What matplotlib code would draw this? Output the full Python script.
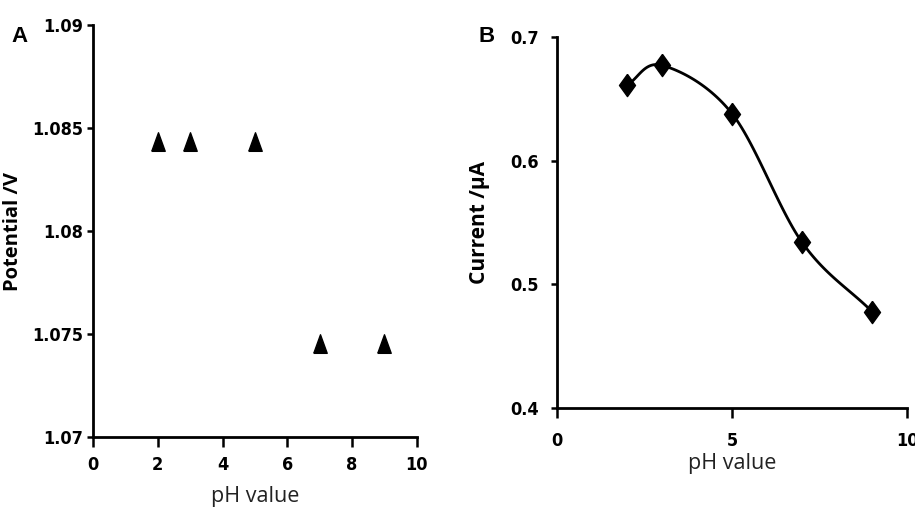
import numpy as np
import matplotlib
matplotlib.use("Agg")
import matplotlib.pyplot as plt
from matplotlib import font_manager

ph_a = [2, 3, 5, 7, 9]
potential = [1.0843, 1.0843, 1.0843, 1.0745, 1.0745]
ph_b = [2, 3, 5, 7, 9]
current = [0.661, 0.677, 0.638, 0.534, 0.478]


def catmull_rom(x, y, n=30):
    x = np.asarray(x, float); y = np.asarray(y, float)
    px = np.concatenate([[2 * x[0] - x[1]], x, [2 * x[-1] - x[-2]]])
    py = np.concatenate([[2 * y[0] - y[1]], y, [2 * y[-1] - y[-2]]])
    xs, ys = [], []
    for i in range(1, len(px) - 2):
        t = np.linspace(0, 1, n)
        p0, p1, p2, p3 = [np.array([px[j], py[j]]) for j in range(i - 1, i + 3)]
        c1 = p1 + (p2 - p0) / 6
        c2 = p2 - (p3 - p1) / 6
        b = ((1 - t) ** 3)[:, None] * p1 + (3 * (1 - t) ** 2 * t)[:, None] * c1 \
            + (3 * (1 - t) * t ** 2)[:, None] * c2 + (t ** 3)[:, None] * p2
        xs.append(b[:, 0]); ys.append(b[:, 1])
    return np.concatenate(xs), np.concatenate(ys)


tri = [(-0.38, -0.5), (0.38, -0.5), (0.0, 0.55), (-0.38, -0.5)]
dia = [(0, 1), (0.72, 0), (0, -1), (-0.72, 0), (0, 1)]

fig = plt.figure(figsize=(9.15, 5.12), dpi=100)
axA = fig.add_axes([0.1016, 0.1465, 0.354, 0.8045])
axB = fig.add_axes([0.6087, 0.203, 0.3826, 0.725])

tickfp = font_manager.FontProperties(family="DejaVu Sans", stretch="condensed", weight="bold", size=13)
labfont = "Open Sans"

for ax in (axA, axB):
    for s in ("top", "right"):
        ax.spines[s].set_visible(False)
    for s in ("left", "bottom"):
        ax.spines[s].set_linewidth(2.0)
    ax.set_xlabel("pH value", fontsize=15.5, family=labfont, color="#222222")

axA.tick_params(axis="x", direction="out", length=7, width=1.8, pad=7)
axB.tick_params(axis="x", direction="out", length=7, width=1.8, pad=10)
axA.tick_params(axis="y", direction="out", length=4, width=1.8, pad=3)
axB.tick_params(axis="y", direction="out", length=4, width=1.8, pad=9)

axA.plot(ph_a, potential, linestyle="none", marker=tri, markersize=14, color="black")
axA.set_xlim(0, 10)
axA.set_ylim(1.07, 1.09)
axA.set_xticks([0, 2, 4, 6, 8, 10])
axA.set_yticks([1.07, 1.075, 1.08, 1.085, 1.09])
axA.set_yticklabels(["1.07", "1.075", "1.08", "1.085", "1.09"])
for lbl in axA.get_xticklabels() + axA.get_yticklabels():
    lbl.set_fontproperties(tickfp)
axA.set_ylabel("Potential /V", fontsize=14.5, weight="bold", family=labfont)
axA.yaxis.set_label_coords(-0.216, 0.5)
axA.xaxis.set_label_coords(0.5, -0.118)

sx, sy = catmull_rom(ph_b, current)
axB.plot(sx, sy, color="black", linewidth=2.0)
axB.plot(ph_b, current, linestyle="none", marker=dia, markersize=16, color="black")
axB.set_xlim(0, 10)
axB.set_ylim(0.4, 0.7)
axB.set_xticks([0, 5, 10])
axB.set_yticks([0.4, 0.5, 0.6, 0.7])
axB.set_yticklabels(["0.4", "0.5", "0.6", "0.7"])
for lbl in axB.get_xticklabels() + axB.get_yticklabels():
    lbl.set_fontproperties(tickfp)
axB.set_ylabel("Current /μA", fontsize=15, weight="bold", family=labfont)
axB.yaxis.set_label_coords(-0.19, 0.5)
axB.xaxis.set_label_coords(0.5, -0.122)

fig.text(0.012, 0.918, "A", fontsize=16, weight="bold", family="Liberation Sans")
fig.text(0.523, 0.918, "B", fontsize=16, weight="bold", family="Liberation Sans")

fig.savefig("out.png", dpi=100, facecolor="white")
